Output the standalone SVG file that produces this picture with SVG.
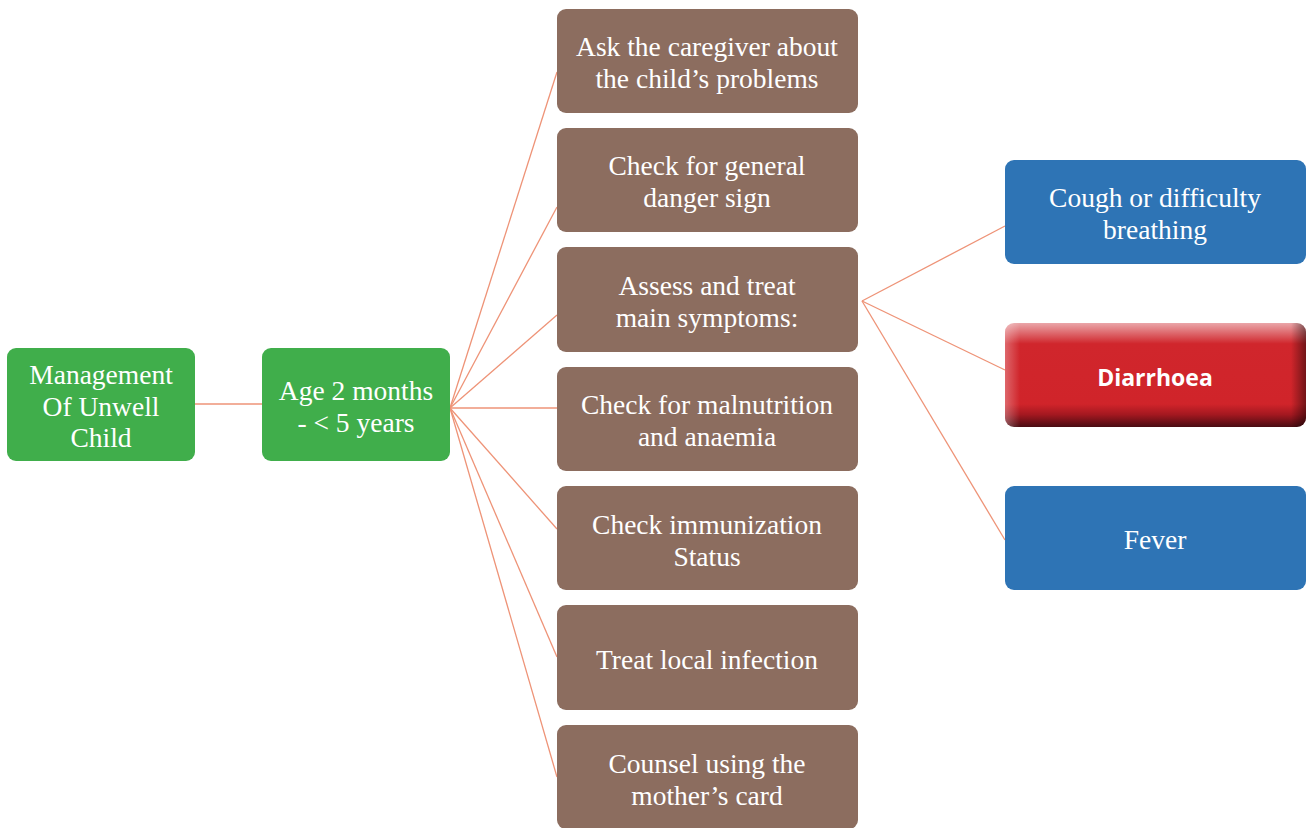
<svg xmlns="http://www.w3.org/2000/svg" width="1306" height="828" viewBox="0 0 1306 828">
<style>
.t{font-family:"Liberation Serif","Times New Roman",serif;font-size:27.5px;fill:#ffffff;text-anchor:middle}
.g{fill:#40AE4B}
.b{fill:#8C6D5F}
.u{fill:#2E74B5}
.c{stroke:#EE9377;stroke-width:1.3;fill:none}
</style>
<defs>
<linearGradient id="rv" x1="0" y1="0" x2="0" y2="1">
<stop offset="0" stop-color="#EAA6A9"/>
<stop offset="0.2" stop-color="#D0262C"/>
<stop offset="0.78" stop-color="#D0242A"/>
<stop offset="0.88" stop-color="#A41820"/>
<stop offset="1" stop-color="#4A0C12"/>
</linearGradient>
<linearGradient id="rh" x1="0" y1="0" x2="1" y2="0">
<stop offset="0" stop-color="#ffffff" stop-opacity="0.3"/>
<stop offset="0.05" stop-color="#ffffff" stop-opacity="0"/>
<stop offset="0.95" stop-color="#000000" stop-opacity="0"/>
<stop offset="1" stop-color="#000000" stop-opacity="0.45"/>
</linearGradient>
</defs>
<g id="connectors">
<line class="c" x1="195" y1="404" x2="262" y2="404"/>
<line class="c" x1="450" y1="408" x2="557" y2="72"/>
<line class="c" x1="450" y1="408" x2="557" y2="207"/>
<line class="c" x1="450" y1="408" x2="557" y2="315"/>
<line class="c" x1="450" y1="408" x2="557" y2="408"/>
<line class="c" x1="450" y1="408" x2="557" y2="529"/>
<line class="c" x1="450" y1="408" x2="557" y2="657"/>
<line class="c" x1="450" y1="408" x2="557" y2="777"/>
<line class="c" x1="862" y1="301" x2="1005" y2="226"/>
<line class="c" x1="862" y1="301" x2="1005" y2="370"/>
<line class="c" x1="862" y1="301" x2="1005" y2="540"/>
</g>
<g id="n-management">
<rect class="g" x="7" y="348" width="188" height="113" rx="9"/>
<text class="t" x="101" y="384">Management</text>
<text class="t" x="101" y="416">Of Unwell</text>
<text class="t" x="101" y="447">Child</text>
</g>
<g id="n-age">
<rect class="g" x="262" y="348" width="188" height="113" rx="9"/>
<text class="t" x="356" y="400">Age 2 months</text>
<text class="t" x="356" y="432">- &lt; 5 years</text>
</g>
<g id="n-ask">
<rect class="b" x="557" y="9" width="301" height="104" rx="9"/>
<text class="t" x="707" y="56">Ask the caregiver about</text>
<text class="t" x="707" y="88">the child’s problems</text>
</g>
<g id="n-danger">
<rect class="b" x="557" y="128" width="301" height="104" rx="9"/>
<text class="t" x="707" y="175">Check for general</text>
<text class="t" x="707" y="207">danger sign</text>
</g>
<g id="n-assess">
<rect class="b" x="557" y="247" width="301" height="105" rx="9"/>
<text class="t" x="707" y="295">Assess and treat</text>
<text class="t" x="707" y="327">main symptoms:</text>
</g>
<g id="n-malnutrition">
<rect class="b" x="557" y="367" width="301" height="104" rx="9"/>
<text class="t" x="707" y="414">Check for malnutrition</text>
<text class="t" x="707" y="446">and anaemia</text>
</g>
<g id="n-immunization">
<rect class="b" x="557" y="486" width="301" height="104" rx="9"/>
<text class="t" x="707" y="534">Check immunization</text>
<text class="t" x="707" y="566">Status</text>
</g>
<g id="n-local">
<rect class="b" x="557" y="605" width="301" height="105" rx="9"/>
<text class="t" x="707" y="669">Treat local infection</text>
</g>
<g id="n-counsel">
<rect class="b" x="557" y="725" width="301" height="104" rx="9"/>
<text class="t" x="707" y="773">Counsel using the</text>
<text class="t" x="707" y="805">mother’s card</text>
</g>
<g id="n-cough">
<rect class="u" x="1005" y="160" width="301" height="104" rx="9"/>
<text class="t" x="1155" y="207">Cough or difficulty</text>
<text class="t" x="1155" y="239">breathing</text>
</g>
<g id="n-diarrhoea">
<rect x="1005" y="323" width="301" height="104" rx="9" fill="url(#rv)"/>
<rect x="1005" y="323" width="301" height="104" rx="9" fill="url(#rh)"/>
<text x="1155" y="386" style="font-family:'Open Sans','Liberation Sans',sans-serif;font-size:23px;font-weight:bold;fill:#ffffff;text-anchor:middle">Diarrhoea</text>
</g>
<g id="n-fever">
<rect class="u" x="1005" y="486" width="301" height="104" rx="9"/>
<text class="t" x="1155" y="549">Fever</text>
</g>
</svg>
